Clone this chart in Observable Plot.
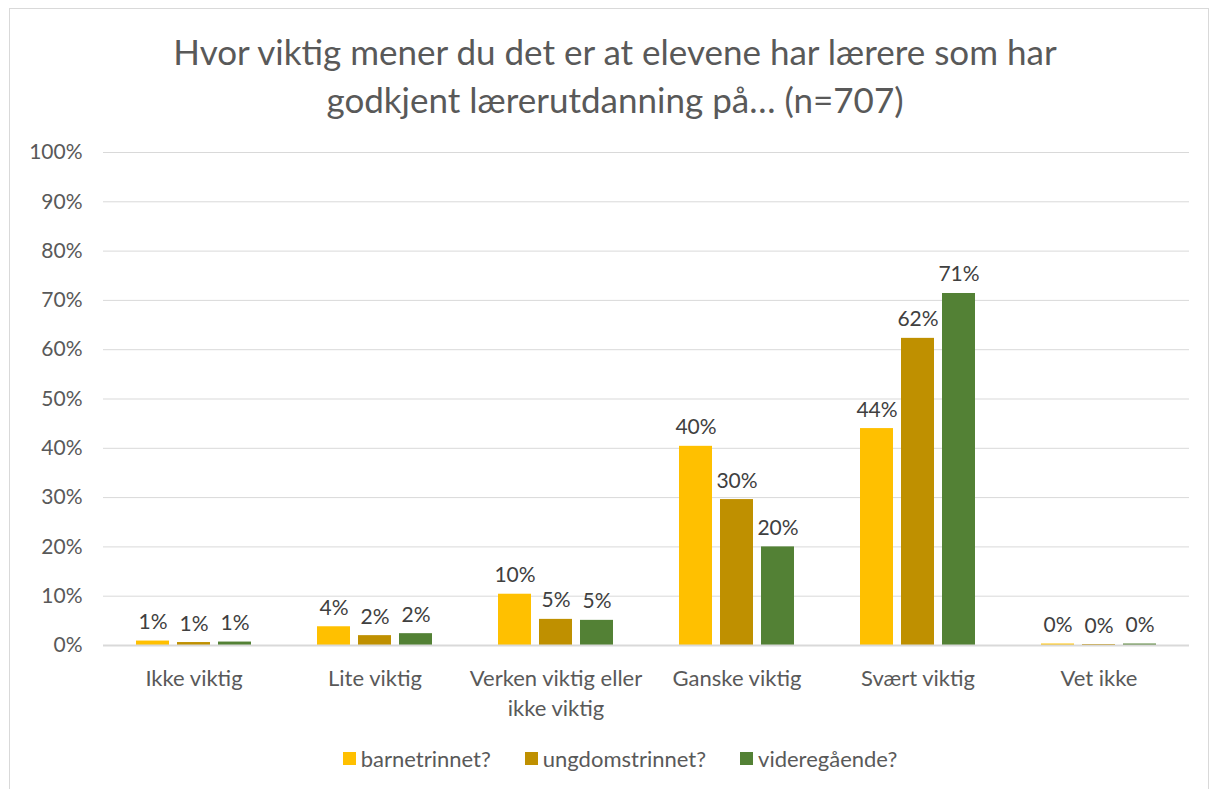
<!DOCTYPE html>
<html>
<head>
<meta charset="utf-8">
<script src="https://cdn.jsdelivr.net/npm/d3@7"></script>
<script src="https://cdn.jsdelivr.net/npm/@observablehq/plot@0.6"></script>
<style>
  html, body { margin: 0; padding: 0; background: #fff; }
  body { width: 1216px; height: 789px; overflow: hidden; position: relative; font-family: Lato, "Open Sans", sans-serif; }
  #frame { position: absolute; left: 9px; top: 8px; width: 1200px; height: 820px; border: 1px solid #d9d9d9; box-sizing: border-box; }
  #title { position: absolute; left: 0; top: 27px; width: 1230px; text-align: center; font-size: 35px; line-height: 48px; color: #595959; }
  #chart { position: absolute; left: 0; top: 130px; }
  #legend { position: absolute; left: 0; top: 745px; width: 1240px; display: flex; justify-content: center; gap: 34px; font-size: 22px; color: #595959; }
  .item { display: flex; align-items: center; gap: 5px; }
  .sw { width: 13px; height: 13px; display: inline-block; }
</style>
</head>
<body>
<div id="frame"></div>
<div id="title">Hvor viktig mener du det er at elevene har lærere som har<br>godkjent lærerutdanning på… (n=707)</div>
<div id="chart"></div>
<div id="legend"></div>
<script>
const categories = ["Ikke viktig", "Lite viktig", "Verken viktig eller ikke viktig", "Ganske viktig", "Svært viktig", "Vet ikke"];
const seriesNames = ["barnetrinnet?", "ungdomstrinnet?", "videregående?"];
const barnetrinnet = [0.9, 3.8, 10.4, 40.4, 44.0, 0.3];
const ungdomstrinnet = [0.6, 2.0, 5.3, 29.6, 62.3, 0.2];
const videregaende = [0.7, 2.4, 5.1, 20.0, 71.4, 0.3];
const yTicks = [0, 10, 20, 30, 40, 50, 60, 70, 80, 90, 100];
const colors = ["#FFC000", "#BF9000", "#538135"];

const seriesValues = [barnetrinnet, ungdomstrinnet, videregaende];
const data = [];
categories.forEach((c, i) => {
  seriesNames.forEach((s, j) => {
    data.push({category: c, series: s, value: seriesValues[j][i]});
  });
});

const font = "Lato, 'Open Sans', sans-serif";

const chart = Plot.plot({
  width: 1216,
  height: 600,
  marginLeft: 102,
  marginRight: 26,
  marginTop: 22,
  marginBottom: 85,
  style: {fontFamily: font, fontSize: "20px", color: "#595959", background: "transparent"},
  fx: {domain: categories, padding: 0, label: null},
  x: {domain: seriesNames, paddingInner: 0.2, paddingOuter: 0.8, axis: null},
  y: {domain: [0, 100], label: null},
  color: {domain: seriesNames, range: colors},
  marks: [
    Plot.gridY(yTicks, {stroke: "#d9d9d9", strokeOpacity: 1, strokeWidth: 1}),
    Plot.axisY(yTicks, {
      tickFormat: d => d + "%", tickSize: 0, tickPadding: 21, label: null,
      fontSize: 21, fill: "#595959"
    }),
    Plot.axisFx({
      anchor: "bottom", tickSize: 0, tickPadding: 20, label: null,
      fontSize: 22, fill: "#595959", lineHeight: 1.33,
      tickFormat: d => d === "Verken viktig eller ikke viktig" ? "Verken viktig eller\nikke viktig" : d
    }),
    Plot.barY(data, {fx: "category", x: "series", y: "value", fill: "series"}),
    Plot.ruleY([0], {stroke: "#d9d9d9", strokeWidth: 2}),
    Plot.text(data, {
      fx: "category", x: "series", y: "value",
      text: d => Math.round(d.value) + "%",
      dy: -12, lineAnchor: "bottom", fill: "#404040", fontSize: 21
    })
  ]
});
document.getElementById("chart").appendChild(chart);

const legend = document.getElementById("legend");
seriesNames.forEach((s, i) => {
  const item = document.createElement("div");
  item.className = "item";
  const sw = document.createElement("span");
  sw.className = "sw";
  sw.style.background = colors[i];
  const t = document.createElement("span");
  t.textContent = s;
  item.appendChild(sw);
  item.appendChild(t);
  legend.appendChild(item);
});
</script>
</body>
</html>
